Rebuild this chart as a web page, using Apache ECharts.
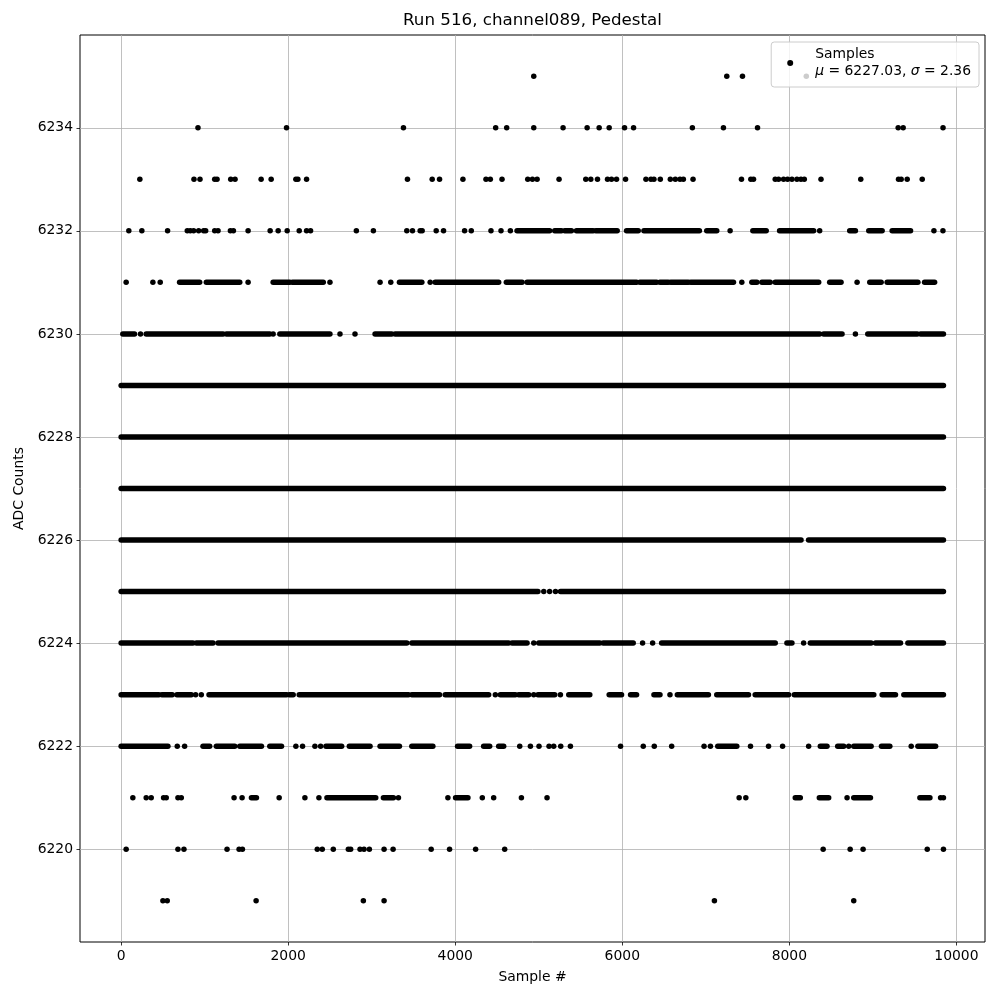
<!DOCTYPE html>
<html><head><meta charset="utf-8">
<script src="https://cdn.jsdelivr.net/npm/echarts@6/dist/echarts.min.js"></script>
<style>html,body{margin:0;padding:0;background:#fff}#c{width:1000px;height:1000px}</style>
</head><body><div id="c"></div>
<script>
// Sample values per ADC level: a number is a single sample #, [a, b] is a run of consecutive dense samples
const levels = [6219,6220,6221,6222,6223,6224,6225,6226,6227,6228,6229,6230,6231,6232,6233,6234,6235];
const r6219 = [500, 552, 1616, 2900, 3148, 7103, 8771];
const r6220 = [60, 680, 752, 1268, 1412, 1452, 2348, 2408, 2540, 2720, 2748, 2860, 2908, 2972, 3148, 3256, 3712, 3932, 4244, 4592, 8405, 8728, 8883, 9651, 9845];
const r6221 = [140, 300, 360, 508, 540, 680, 720, 1352, 1448, [1560, 1620], 1892, 2200, 2368, [2464, 3048], [3140, 3260], 3320, 3912, [4004, 4152], 4324, 4460, 4792, 5099, 7399, 7479, [8071, 8131], [8359, 8471], 8691, [8771, 8971], [9563, 9683], 9811, 9845];
const r6222 = [[0, 560], 672, 760, [980, 1060], [1140, 1360], [1420, 1680], [1780, 1920], 2092, 2172, 2320, 2388, [2452, 2640], [2732, 2980], [3100, 3332], [3480, 3732], [4028, 4172], [4340, 4412], [4520, 4580], 4772, 4900, 5003, 5123, 5179, 5263, 5379, 5979, 6251, 6383, 6591, 6979, 7055, [7143, 7371], 7535, 7751, 7919, 8231, [8371, 8451], [8579, 8651], 8711, [8771, 8979], [9103, 9203], 9459, [9539, 9751]];
const r6223 = [[0, 452], [488, 612], [668, 840], 892, 960, [1052, 1980], [2012, 2060], [2132, 3440], [3480, 3812], [3880, 4400], 4480, [4540, 4720], [4760, 4880], 4940, [4991, 5191], 5259, [5359, 5611], [5843, 5991], [6099, 6171], [6379, 6451], 6571, [6659, 7031], [7131, 7511], [7591, 7991], [8059, 9011], [9111, 9271], [9371, 9845]];
const r6224 = [[0, 860], [900, 1100], [1160, 3420], [3480, 4640], [4680, 4860], 4940, [5000, 5731], [5771, 6131], 6243, 6363, [6471, 7831], [7971, 8031], 8171, [8251, 8979], [9031, 9331], [9419, 9845]];
const r6225 = [[0, 4990], 5060, 5130, 5200, [5260, 9845]];
const r6226 = [[0, 8140], [8230, 9845]];
const r6227 = [[0, 9845]];
const r6228 = [[0, 9845]];
const r6229 = [[0, 9845]];
const r6230 = [[20, 160], 232, [300, 1220], [1260, 1780], 1820, [1900, 2500], 2620, 2800, [3040, 3240], [3280, 8363], [8411, 8631], 8791, [8939, 9531], [9571, 9845]];
const r6231 = [60, 380, 468, [700, 940], [1020, 1420], 1520, [1820, 2020], [2052, 2420], 2500, 3100, 3228, [3332, 3600], 3700, [3760, 4520], [4612, 4800], [4860, 6171], [6211, 6411], [6451, 6551], [6579, 6791], [6819, 7331], 7431, [7551, 7611], [7671, 7771], [7831, 8351], [8483, 8619], 8811, [8963, 9099], [9171, 9539], [9619, 9739]];
const r6232 = [92, 248, 556, 792, 828, 868, 928, 988, 1012, 1120, 1160, 1308, 1344, 1520, 1784, 1880, 1988, 2132, 2220, 2268, 2816, 3020, 3420, 3488, 3580, 3604, 3772, 3860, 4112, 4192, 4428, 4548, 4660, [4740, 5130], [5191, 5271], [5311, 5391], [5451, 5651], [5683, 5939], [6051, 6191], [6259, 6923], [7011, 7131], 7291, [7563, 7723], [7883, 8291], 8363, [8723, 8791], [8951, 9111], [9231, 9451], 9731, 9839];
const r6233 = [224, 872, 944, 1120, 1148, 1312, 1364, 1676, 1796, 2092, 2116, 2220, 3428, 3724, 3812, 4092, 4368, 4420, 4560, 4868, 4924, 4980, 5243, 5563, 5623, 5703, 5823, 5871, 5931, 6039, 6283, 6343, 6379, 6455, 6575, 6635, 6691, 6731, 6847, 7427, 7539, 7571, 7831, 7871, 7931, 7979, 8031, 8091, 8139, 8179, 8379, 8855, 9307, 9339, 9411, 9591];
const r6234 = [920, 1980, 3380, 4484, 4616, 4940, 5291, 5579, 5723, 5843, 6027, 6135, 6839, 7211, 7619, 9303, 9363, 9840];
const r6235 = [4940, 7251, 7439, 8203];

const xTicks = [0, 2000, 4000, 6000, 8000, 10000];
const yTicks = [6220, 6222, 6224, 6226, 6228, 6230, 6232, 6234];

const rows = {6219:r6219,6220:r6220,6221:r6221,6222:r6222,6223:r6223,6224:r6224,6225:r6225,6226:r6226,6227:r6227,6228:r6228,6229:r6229,6230:r6230,6231:r6231,6232:r6232,6233:r6233,6234:r6234,6235:r6235};
const singles = [], runs = [];
levels.forEach(l => rows[l].forEach(e => {
  if (Array.isArray(e)) runs.push([e[0], e[1], l]); else singles.push([e, l]);
}));

const FONT = 'DejaVu Sans';
const plain = v => String(v);
const chart = echarts.init(document.getElementById('c'), null, {renderer: 'canvas'});
chart.setOption({
  animation: false,
  backgroundColor: '#ffffff',
  title: {
    text: 'Run 516, channel089, Pedestal',
    left: 532.5, top: 12, textAlign: 'center', padding: 0,
    textStyle: {fontFamily: FONT, fontSize: 16.7, fontWeight: 'normal', color: '#000'}
  },
  legend: {
    data: [{name: 'Samples', icon: 'circle', itemStyle: {color: '#000', opacity: 1}}],
    right: 21, top: 42, orient: 'vertical',
    itemWidth: 6, itemHeight: 6,
    padding: [4, 8, 7, 16],
    backgroundColor: 'rgba(255,255,255,0.8)',
    borderColor: '#cccccc', borderWidth: 1, borderRadius: 3,
    formatter: () => 'Samples\n{i|μ} = 6227.03, {i|σ} = 2.36',
    textStyle: {
      fontFamily: FONT, fontSize: 13.9, color: '#000', lineHeight: 17,
      padding: [0, 0, 0, 17],
      rich: {i: {fontStyle: 'italic', fontFamily: FONT, fontSize: 13.9, lineHeight: 17}}
    }
  },
  grid: {left: 80, right: 15, top: 35, bottom: 58, show: true, borderColor: '#000', borderWidth: 1, backgroundColor: 'transparent'},
  xAxis: {
    type: 'value', min: -492.5, max: 10342.5,
    name: 'Sample #', nameLocation: 'middle', nameGap: 28,
    nameTextStyle: {fontFamily: FONT, fontSize: 13.9, color: '#000'},
    axisLine: {show: false, onZero: false},
    axisTick: {show: true, customValues: xTicks, length: 3.5, lineStyle: {color: '#000', width: 0.8}},
    axisLabel: {customValues: xTicks, formatter: plain, fontFamily: FONT, fontSize: 13.9, color: '#000', margin: 7},
    splitLine: {show: true, lineStyle: {color: '#b0b0b0', width: 0.8}}
  },
  yAxis: {
    type: 'value', min: 6218.2, max: 6235.8,
    name: 'ADC Counts', nameLocation: 'middle', nameGap: 44, nameRotate: 90,
    nameTextStyle: {fontFamily: FONT, fontSize: 13.9, color: '#000'},
    axisLine: {show: false, onZero: false},
    axisTick: {show: true, customValues: yTicks, length: 3.5, lineStyle: {color: '#000', width: 0.8}},
    axisLabel: {customValues: yTicks, formatter: plain, fontFamily: FONT, fontSize: 13.9, color: '#000', margin: 7},
    splitLine: {show: true, lineStyle: {color: '#b0b0b0', width: 0.8}}
  },
  series: [
    {
      type: 'scatter', name: 'Samples', data: singles, symbol: 'circle', symbolSize: 5.5,
      itemStyle: {color: '#000', opacity: 1}, silent: true, z: 3
    },
    {
      type: 'custom', name: 'Samples', data: runs, encode: {x: [0, 1], y: 2}, silent: true, z: 3,
      itemStyle: {color: '#000'},
      renderItem: (params, api) => {
        const p1 = api.coord([api.value(0), api.value(2)]);
        const p2 = api.coord([api.value(1), api.value(2)]);
        return {type: 'line', shape: {x1: p1[0], y1: p1[1], x2: p2[0], y2: p2[1]},
                style: {stroke: '#000', lineWidth: 5.5, lineCap: 'round'}};
      }
    }
  ]
});
</script></body></html>
